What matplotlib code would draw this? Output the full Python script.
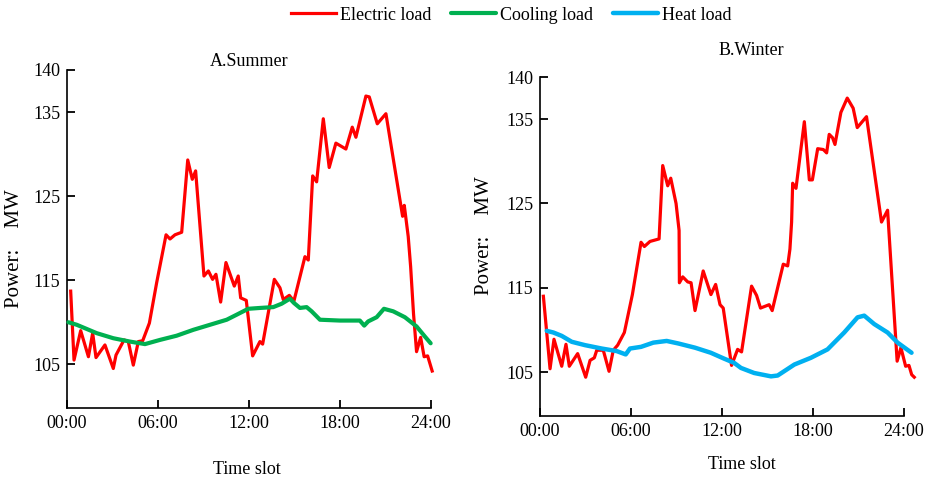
import matplotlib
matplotlib.use("Agg")
from matplotlib import pyplot as plt

# Summer (panel A)
summer_elec_hours = [0.24, 0.46, 0.9, 1.41, 1.69, 1.91, 2.5, 3.05, 3.23, 3.76, 4.04, 4.37, 4.7, 4.99,
                     5.43, 5.91, 6.53, 6.79, 7.12, 7.56, 7.96, 8.26, 8.48, 9.03, 9.32, 9.6, 9.82,
                     10.13, 10.48, 11.03, 11.29, 11.45, 11.82, 12.24, 12.72, 12.9, 13.67, 14.04,
                     14.26, 14.66, 14.96, 15.69, 15.91, 16.2, 16.46, 16.9, 17.29, 17.73, 18.39,
                     18.81, 19.05, 19.71, 19.93, 20.46, 21.03, 22.13, 22.24, 22.5, 22.66, 22.85,
                     23.05, 23.32, 23.55, 23.78, 24.08]
summer_elec_load = [113.7, 105.5, 109.0, 105.9, 108.7, 105.8, 107.3, 104.5, 106.1, 107.9, 107.7,
                    104.9, 107.7, 107.8, 109.9, 114.7, 120.4, 119.9, 120.4, 120.7, 129.3, 127.0,
                    128.0, 115.5, 116.1, 115.1, 115.7, 112.4, 117.1, 114.3, 115.5, 112.9, 112.6,
                    106.0, 107.7, 107.4, 115.1, 114.1, 112.7, 113.2, 112.5, 117.8, 117.4, 127.4,
                    126.7, 134.2, 128.4, 131.3, 130.6, 133.2, 132.0, 136.9, 136.8, 133.6, 134.8,
                    122.6, 123.9, 120.2, 116.6, 111.0, 106.5, 108.2, 105.9, 106.0, 104.2]
summer_cool_hours = [0.09, 0.64, 1.96, 3.05, 4.15, 5.14, 6.13, 7.23, 8.33, 9.43, 10.53, 11.19,
                     11.95, 12.72, 13.6, 14.15, 14.7, 14.96, 15.36, 15.8, 16.13, 16.68, 18.0,
                     19.31, 19.6, 19.86, 20.42, 20.9, 21.51, 22.28, 23.05, 23.6, 23.98]
summer_cool_load = [110.0, 109.7, 108.7, 108.1, 107.7, 107.4, 107.9, 108.4, 109.1, 109.7, 110.3,
                    110.9, 111.6, 111.7, 111.8, 112.2, 112.8, 112.3, 111.7, 111.8, 111.3, 110.3,
                    110.2, 110.2, 109.6, 110.1, 110.6, 111.6, 111.3, 110.6, 109.5, 108.3, 107.5]

# Winter (panel B)
winter_elec_hours = [0.22, 0.66, 0.92, 1.43, 1.71, 1.93, 2.48, 3.01, 3.3, 3.58, 3.74, 4.17, 4.55,
                     4.83, 5.12, 5.56, 6.09, 6.66, 6.88, 7.25, 7.85, 8.09, 8.42, 8.62, 8.97, 9.17,
                     9.19, 9.41, 9.74, 9.96, 10.22, 10.76, 11.27, 11.58, 11.87, 12.08, 12.63,
                     13.03, 13.29, 13.95, 14.28, 14.54, 15.11, 15.31, 16.04, 16.33, 16.48, 16.59,
                     16.66, 16.88, 17.43, 17.76, 17.96, 18.31, 18.68, 18.9, 19.07, 19.29, 19.45,
                     19.84, 20.26, 20.65, 20.92, 21.53, 22.52, 22.92, 23.18, 23.55, 23.8, 24.11,
                     24.33, 24.51, 24.68]
winter_elec_load = [114.0, 105.4, 108.9, 105.7, 108.3, 105.7, 107.2, 104.4, 106.4, 106.7, 107.6,
                    107.6, 105.1, 107.6, 108.2, 109.7, 114.2, 120.4, 119.9, 120.5, 120.8, 129.5,
                    127.1, 128.0, 125.0, 121.8, 115.6, 116.3, 115.7, 115.6, 112.3, 117.0, 114.2,
                    115.4, 113.0, 112.6, 105.8, 107.7, 107.4, 115.2, 114.1, 112.6, 113.0, 112.3,
                    117.8, 117.6, 119.6, 122.8, 127.4, 126.8, 134.7, 127.8, 127.8, 131.5, 131.4,
                    131.0, 133.2, 132.8, 132.0, 135.8, 137.5, 136.3, 134.0, 135.3, 122.8, 124.2,
                    116.8, 106.3, 107.9, 105.7, 105.8, 104.7, 104.4]
winter_heat_hours = [0.44, 0.88, 1.43, 2.09, 2.97, 4.07, 5.05, 5.65, 5.93, 6.66, 7.47, 8.35, 9.12,
                     10.22, 11.26, 12.14, 12.8, 13.25, 14.12, 15.23, 15.67, 16.77, 17.86, 18.96,
                     20.06, 20.94, 21.38, 22.04, 22.92, 23.58, 24.5]
winter_heat_load = [109.9, 109.7, 109.3, 108.6, 108.2, 107.8, 107.5, 107.1, 107.8, 108.0, 108.5,
                    108.7, 108.4, 107.9, 107.3, 106.6, 106.1, 105.5, 104.9, 104.5, 104.6, 105.9,
                    106.7, 107.7, 109.7, 111.5, 111.7, 110.7, 109.7, 108.5, 107.3]

x_ticks = [0, 6, 12, 18, 24]
x_tick_labels = ["00:00", "06:00", "12:00", "18:00", "24:00"]
y_ticks = [105, 115, 125, 135, 140]

RED = "#ff0000"
GREEN = "#00b050"
BLUE = "#00b0f0"
FS = 13

plt.rcParams['font.family'] = ['Liberation Serif', 'DejaVu Serif']


def style_axes(ax):
    ax.spines['top'].set_visible(False)
    ax.spines['right'].set_visible(False)
    ax.spines['left'].set_linewidth(1.2)
    ax.spines['bottom'].set_linewidth(1.2)
    ax.set_xlim(0, 24)
    ax.set_ylim(99.8, 140)
    ax.set_xticks(x_ticks)
    ax.set_xticklabels(x_tick_labels)
    ax.set_yticks(y_ticks)
    ax.tick_params(direction='in', length=6, width=1.3, labelsize=FS)
    ax.tick_params(axis='x', pad=5)
    ax.tick_params(axis='y', pad=5)


def main():
    fig = plt.figure(figsize=(9.26, 4.84), dpi=100)
    ax1 = fig.add_axes([0.0724, 0.157, 0.393, 0.6984])
    ax2 = fig.add_axes([0.5832, 0.1405, 0.393, 0.7004])

    l1, = ax1.plot(summer_elec_hours, summer_elec_load, color=RED, lw=2.3,
                   solid_joinstyle='round', clip_on=False, zorder=3, label="Electric load")
    l2, = ax1.plot(summer_cool_hours, summer_cool_load, color=GREEN, lw=3.0,
                   solid_joinstyle='round', solid_capstyle='round', clip_on=False, zorder=4,
                   label="Cooling load")
    ax2.plot(winter_elec_hours, winter_elec_load, color=RED, lw=2.3,
             solid_joinstyle='round', clip_on=False, zorder=3)
    l3, = ax2.plot(winter_heat_hours, winter_heat_load, color=BLUE, lw=3.2,
                   solid_joinstyle='round', solid_capstyle='round', clip_on=False, zorder=4,
                   label="Heat load")

    for ax in (ax1, ax2):
        style_axes(ax)

    ax1.set_title("A.Summer", fontsize=FS, pad=3)
    ax2.set_title("B.Winter", fontsize=FS, pad=16, x=0.58)

    ax1.set_xlabel("Time slot", fontsize=FS)
    ax1.xaxis.set_label_coords(0.495, -0.158)
    ax2.set_xlabel("Time slot", fontsize=FS)
    ax2.xaxis.set_label_coords(0.555, -0.119)

    ax1.set_ylabel("Power:    MW", fontsize=15)
    ax1.yaxis.set_label_coords(-0.118, 0.473)
    ax2.set_ylabel("Power:    MW", fontsize=15)
    ax2.yaxis.set_label_coords(-0.126, 0.531)

    fig.legend(handles=[l1, l2, l3], loc='center', bbox_to_anchor=(0.552, 0.969), ncol=3,
               frameon=False, fontsize=FS, handlelength=2.5, handletextpad=0.2,
               columnspacing=1.1)

    fig.savefig("out.png", dpi=100)


if __name__ == '__main__':
    main()
